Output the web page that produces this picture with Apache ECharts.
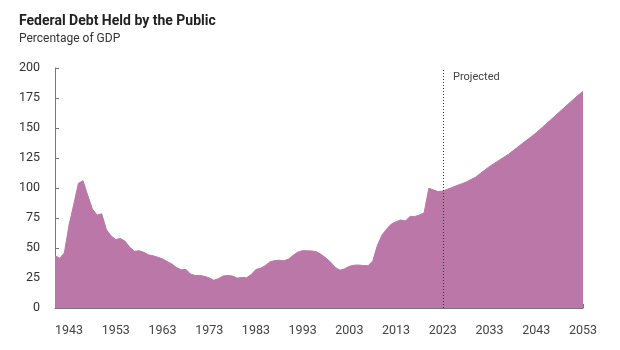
<!DOCTYPE html>
<html>
<head>
<meta charset="utf-8">
<script src="https://cdn.jsdelivr.net/npm/echarts@6/dist/echarts.min.js"></script>
<style>
    html, body { margin: 0; padding: 0; background: #fff; }
    #chartArea { width: 620px; height: 350px; }
</style>
</head>
<body>
<div id="chartArea"></div>
<script>
    // actual values, fiscal years 1940-2023
    var histYears = [];
    for (var y = 1940; y <= 2023; y++) histYears.push(y);
    var histDebt = [
        43.6, 41.5, 45.9, 69.2, 86.0, 103.9, 106.1, 93.9, 82.4, 77.4,
        78.5, 65.4, 60.1, 57.1, 57.9, 55.7, 50.6, 47.2, 47.7, 46.4,
        44.3, 43.5, 42.3, 41.0, 38.7, 36.7, 33.7, 31.8, 32.2, 28.3,
        27.0, 27.1, 26.4, 25.1, 23.1, 24.5, 26.7, 27.1, 26.6, 24.9,
        25.5, 25.2, 27.9, 32.1, 33.1, 35.3, 38.4, 39.5, 39.8, 39.3,
        40.8, 44.0, 46.6, 47.8, 47.7, 47.5, 46.8, 44.5, 41.6, 38.2,
        33.7, 31.5, 32.7, 34.7, 35.7, 35.8, 35.4, 35.2, 39.2, 52.3,
        60.9, 65.9, 70.0, 71.9, 73.4, 72.5, 76.4, 76.2, 77.6, 79.4,
        99.8, 98.4, 97.0, 97.5
    ];
    // projected, 2024-2053
    var projYears = [];
    for (var p = 2024; p <= 2053; p++) projYears.push(p);
    var projDebt = [
        99, 100.5, 102, 103.5, 105, 107, 109, 112, 115, 118,
        120.5, 123, 125.5, 128, 131, 134, 137, 140, 143, 146,
        149.5, 153, 156.5, 160, 163.5, 167, 170.5, 174, 177.5, 180.5
    ];
    var tickYears = [1943, 1953, 1963, 1973, 1983, 1993, 2003, 2013, 2023, 2033, 2043, 2053];
    var projStart = 2023;

    var seriesData = [];
    for (var i in histYears) seriesData.push([histYears[i], histDebt[i]]);
    for (var j in projYears) seriesData.push([projYears[j], projDebt[j]]);

    var chartArea = echarts.init(document.getElementById('chartArea'));
    chartArea.setOption({
        animation: false,
        textStyle: { fontFamily: 'Roboto' },
        title: [
            {
                text: 'Federal Debt Held by the Public',
                subtext: 'Percentage of GDP',
                left: 14,
                top: 9,
                itemGap: 5,
                textStyle: { fontSize: 14, fontWeight: 'bold', color: '#222', fontFamily: 'Roboto' },
                subtextStyle: { fontSize: 12, color: '#333', fontFamily: 'Roboto' }
            },
            {
                text: 'Projected',
                left: 448,
                top: 67,
                textStyle: { fontSize: 11, fontWeight: 'normal', color: '#444', fontFamily: 'Roboto' }
            }
        ],
        grid: { left: 55, right: 37, top: 68, bottom: 42 },
        xAxis: {
            type: 'value',
            min: 1940,
            max: 2053,
            splitLine: { show: false },
            axisLine: { lineStyle: { color: '#777' } },
            axisTick: { inside: true, length: 4, customValues: tickYears, lineStyle: { color: '#777' } },
            axisLabel: {
                customValues: tickYears,
                margin: 16,
                fontSize: 12.5,
                color: '#444',
                formatter: function (v) { return String(v); }
            }
        },
        yAxis: {
            type: 'value',
            min: 0,
            max: 200,
            interval: 25,
            splitLine: { show: false },
            axisLine: { show: true, lineStyle: { color: '#777' } },
            axisTick: { show: true, inside: true, length: 4, lineStyle: { color: '#777' } },
            axisLabel: { margin: 15, fontSize: 12.5, color: '#333' }
        },
        series: [
            {
                type: 'line',
                data: seriesData,
                showSymbol: false,
                lineStyle: { width: 1, color: '#bb77a8' },
                areaStyle: { color: '#bb77a8', opacity: 1 },
                markLine: {
                    silent: true,
                    symbol: 'none',
                    label: { show: false },
                    lineStyle: { type: [1, 2], color: '#333', width: 1 },
                    data: [[{ coord: [projStart, 0] }, { coord: [projStart, 200] }]]
                }
            }
        ]
    });
</script>
</body>
</html>
